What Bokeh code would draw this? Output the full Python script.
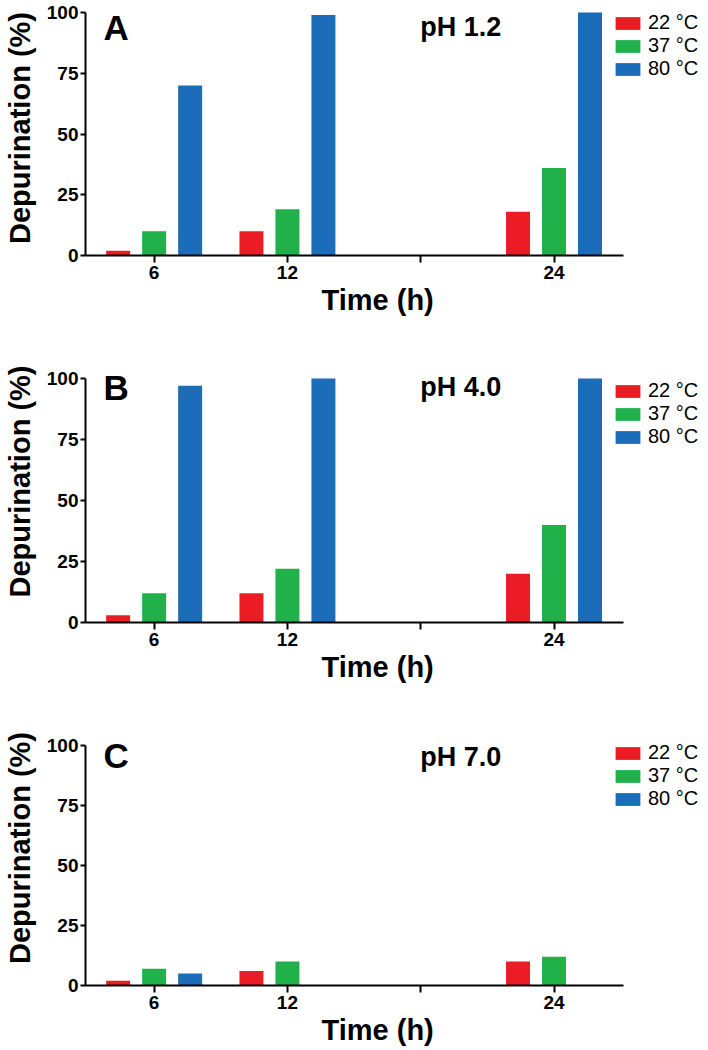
from bokeh.plotting import figure
from bokeh.models import Range1d, FixedTicker, Legend, LegendItem, Label, Title
from bokeh.layouts import column
from bokeh.embed import file_html
from bokeh.resources import INLINE

# ---- data ----
times = ["6", "12", "", "24"]
temps = ["22 °C", "37 °C", "80 °C"]
colors = ["#EC1C24", "#21B14B", "#1C6DB9"]

ph12_22 = [2, 10, 0, 18]
ph12_37 = [10, 19, 0, 36]
ph12_80 = [70, 99, 0, 100]

ph40_22 = [3, 12, 0, 20]
ph40_37 = [12, 22, 0, 40]
ph40_80 = [97, 100, 0, 100]

ph70_22 = [2, 6, 0, 10]
ph70_37 = [7, 10, 0, 12]
ph70_80 = [5, 0, 0, 0]

y_ticks = [0, 25, 50, 75, 100]

FONT = "Liberation Sans"
positions = list(range(1, len(times) + 1))
offsets = [-0.27, 0.0, 0.27]


def make_panel(letter, title, series, height, bbottom, ytop, letter_y, title_y, leg_y):
    p = figure(width=708, height=height, output_backend="svg", toolbar_location=None,
               title=None,
               x_range=Range1d(0.485, 5.159), y_range=Range1d(0, ytop),
               min_border_left=84, min_border_right=0, min_border_top=0,
               min_border_bottom=bbottom)
    p.outline_line_color = None
    p.xgrid.visible = False
    p.ygrid.visible = False
    p.background_fill_color = "white"

    renderers = []
    for j, vals in enumerate(series):
        xs = [pos + offsets[j] for pos in positions]
        r = p.vbar(x=xs, top=vals, width=0.18, bottom=0,
                   fill_color=colors[j], line_color=None)
        renderers.append(r)

    for ax in (p.xaxis[0], p.yaxis[0]):
        ax.axis_line_width = 2
        ax.axis_line_color = "black"
        ax.major_tick_line_width = 2
        ax.major_tick_line_color = "black"
        ax.minor_tick_line_color = None
        ax.major_tick_in = 0
        ax.major_label_text_font = FONT
        ax.major_label_text_font_style = "bold"
        ax.major_label_text_font_size = "19px"
        ax.major_label_text_color = "black"
        ax.axis_label_text_font = FONT
        ax.axis_label_text_font_style = "bold"
        ax.axis_label_text_font_size = "29px"
        ax.axis_label_text_color = "black"

    p.xaxis.ticker = FixedTicker(ticks=positions)
    p.xaxis.major_label_overrides = {pos: t for pos, t in zip(positions, times)}
    p.xaxis.bounds = (0.485, 4.52)
    p.xaxis.major_tick_out = 7
    p.xaxis.major_label_standoff = 3

    # x-axis title, placed where the reference has it
    p.add_layout(Title(text="Time (h)", align="left", offset=236, standoff=0,
                       text_font=FONT, text_font_size="29px", text_font_style="bold",
                       text_color="black"), "below")

    p.yaxis.ticker = FixedTicker(ticks=y_ticks)
    p.yaxis.bounds = (0, 100)
    p.yaxis.major_tick_out = 5
    p.yaxis.major_label_standoff = 2
    p.yaxis.axis_label = "Depurination (%)"
    p.yaxis.axis_label_standoff = 8

    p.add_layout(Label(x=0.62, y=letter_y, text=letter, text_font=FONT,
                       text_font_style="bold", text_font_size="35px",
                       text_baseline="middle", text_align="left", text_color="black"))
    p.add_layout(Label(x=3.3, y=title_y, text=title, text_font=FONT,
                       text_font_style="bold", text_font_size="27px",
                       text_baseline="middle", text_align="center", text_color="black"))

    legend = Legend(items=[LegendItem(label=temps[j], renderers=[renderers[j]]) for j in range(3)],
                    location=(527, leg_y), orientation="vertical")
    legend.glyph_width = 31
    legend.glyph_height = 16
    legend.label_text_font = FONT
    legend.label_text_font_size = "20px"
    legend.label_text_color = "black"
    legend.label_standoff = 5
    legend.label_height = 21
    legend.spacing = 0
    legend.padding = 0
    legend.margin = 0
    legend.border_line_color = None
    legend.background_fill_alpha = 0
    p.add_layout(legend, "center")
    return p


pA = make_panel("A", "pH 1.2", [ph12_22, ph12_37, ph12_80], 340, 85, 104.94, 94.0, 94.0, 175)
pB = make_panel("B", "pH 4.0", [ph40_22, ph40_37, ph40_80], 370, 88, 115.57, 96.5, 96.5, 174)
pC = make_panel("C", "pH 7.0", [ph70_22, ph70_37, ph70_80], 340, 65, 114.58, 95.8, 95.0, 175)

layout = column(pA, pB, pC, spacing=0)
open("out.html", "w").write(file_html(layout, INLINE))
